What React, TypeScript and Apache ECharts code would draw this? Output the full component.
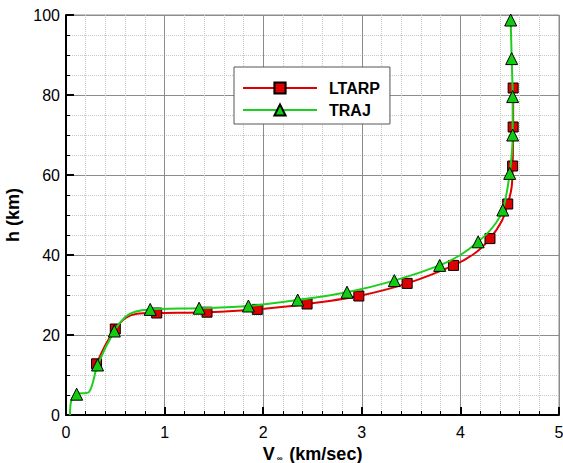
import React, { useEffect, useRef } from "react";
import * as echarts from "echarts";

// LTARP curve: [V (km/sec), h (km), marker 1/0]
const ltarpV = [0.31, 0.40, 0.5, 0.6, 0.72, 0.92, 1.43, 1.94, 2.445, 2.97, 3.46, 3.93, 4.15, 4.30, 4.42, 4.48, 4.52, 4.53, 4.535, 4.535];
const ltarpH = [12.8, 17.5, 21.5, 24.2, 25.3, 25.5, 25.7, 26.4, 27.75, 29.75, 32.9, 37.4, 40.5, 44.1, 48.5, 52.75, 57, 62.25, 72, 81.75];
const ltarpMark = [1, 0, 1, 0, 0, 1, 1, 1, 1, 1, 1, 1, 0, 1, 0, 1, 0, 1, 1, 1];

// TRAJ curve
const trajV = [0.04, 0.055, 0.108, 0.234, 0.32, 0.49, 0.6, 0.7, 0.854, 1.35, 1.85, 2.35, 2.85, 3.33, 3.79, 4.0, 4.18, 4.33, 4.43, 4.50, 4.53, 4.53, 4.52, 4.51];
const trajH = [0, 3.7, 5.2, 5.8, 12.5, 21, 24.5, 25.8, 26.4, 26.7, 27.25, 28.75, 30.7, 33.6, 37.4, 40, 43.3, 47, 51.25, 60.4, 70, 79.6, 89.1, 98.75];
const trajMark = [0, 0, 1, 0, 1, 1, 0, 0, 1, 1, 1, 1, 1, 1, 1, 0, 1, 0, 1, 1, 1, 1, 1, 1];

const xTicks = { min: 0, max: 5, interval: 1 };
const yTicks = { min: 0, max: 100, interval: 20 };

const FONT = "'Liberation Sans', Arial, sans-serif";

function build(v: number[], h: number[], m: number[]) {
  return v.map((x, i) =>
    m[i] ? { value: [x, h[i]] } : { value: [x, h[i]], symbol: "none" }
  );
}

export default function App() {
  const ref = useRef<HTMLDivElement>(null);
  useEffect(() => {
    document.body.style.margin = "0";
    const chart = echarts.init(ref.current!, null, { renderer: "svg" });
    const axisCommon = {
      axisLine: { onZero: false, lineStyle: { color: "#000", width: 2 } },
      axisTick: { inside: true, length: 8, lineStyle: { color: "#000", width: 2 } },
      minorTick: { show: true, length: 4, lineStyle: { color: "#000", width: 1 } },
      splitLine: { show: true, lineStyle: { color: "#8c8c8c", width: 1 } },
      minorSplitLine: { show: true, lineStyle: { color: "#c8c8c8", width: 1, type: "dotted" } },
      axisLabel: { color: "#000", fontSize: 16, fontFamily: FONT },
      nameTextStyle: { color: "#000", fontSize: 18, fontWeight: "bold", fontFamily: FONT },
    };
    chart.setOption({
      animation: false,
      backgroundColor: "#fff",
      grid: {
        left: 66, right: 4, top: 15, bottom: 48,
        outerBoundsMode: "none", containLabel: false,
        show: true, borderColor: "#8c8c8c", borderWidth: 1,
      },
      legend: {
        show: true,
        orient: "vertical",
        left: 234,
        top: 67,
        padding: [13, 10, 6, 8],
        itemGap: 6,
        itemWidth: 74,
        itemHeight: 14,
        backgroundColor: "#fff",
        borderColor: "#555",
        borderWidth: 1,
        borderRadius: 0,
        textStyle: { color: "#000", fontSize: 16, fontWeight: "bold", fontFamily: FONT, padding: [0, 0, 0, 7] },
        data: ["LTARP", "TRAJ"],
      },
      xAxis: {
        type: "value",
        ...xTicks,
        ...axisCommon,
        minorTick: { ...axisCommon.minorTick, splitNumber: 5 },
        axisLabel: { ...axisCommon.axisLabel, margin: 9 },
        name: "V{sub|∞} (km/sec)",
        nameLocation: "middle",
        nameGap: 21,
        nameTextStyle: {
          ...axisCommon.nameTextStyle,
          lineHeight: 18,
          rich: {
            sub: { fontSize: 8, fontFamily: FONT, verticalAlign: "bottom", lineHeight: 12, padding: [4, 2, 0, 2], color: "#000" },
          },
        },
      },
      yAxis: {
        type: "value",
        ...yTicks,
        ...axisCommon,
        minorTick: { ...axisCommon.minorTick, splitNumber: 4 },
        axisLabel: { ...axisCommon.axisLabel, margin: 6 },
        name: "h (km)",
        nameLocation: "middle",
        nameGap: 40,
      },
      series: [
        {
          name: "LTARP",
          type: "line",
          smooth: 0.3,
          data: build(ltarpV, ltarpH, ltarpMark),
          symbol: "rect",
          symbolSize: 10,
          showAllSymbol: true,
          lineStyle: { color: "#e00000", width: 2 },
          itemStyle: { color: "#dd0000", borderColor: "#000", borderWidth: 1 },
          z: 2,
        },
        {
          name: "TRAJ",
          type: "line",
          smooth: 0.3,
          data: build(trajV, trajH, trajMark),
          symbol: "triangle",
          symbolSize: 12,
          showAllSymbol: true,
          lineStyle: { color: "#1ed01e", width: 2 },
          itemStyle: { color: "#11cc11", borderColor: "#000", borderWidth: 1 },
          z: 3,
        },
      ],
    });
    return () => chart.dispose();
  }, []);
  return <div ref={ref} style={{ position: "absolute", left: 0, top: 0, width: 563, height: 463 }} />;
}
